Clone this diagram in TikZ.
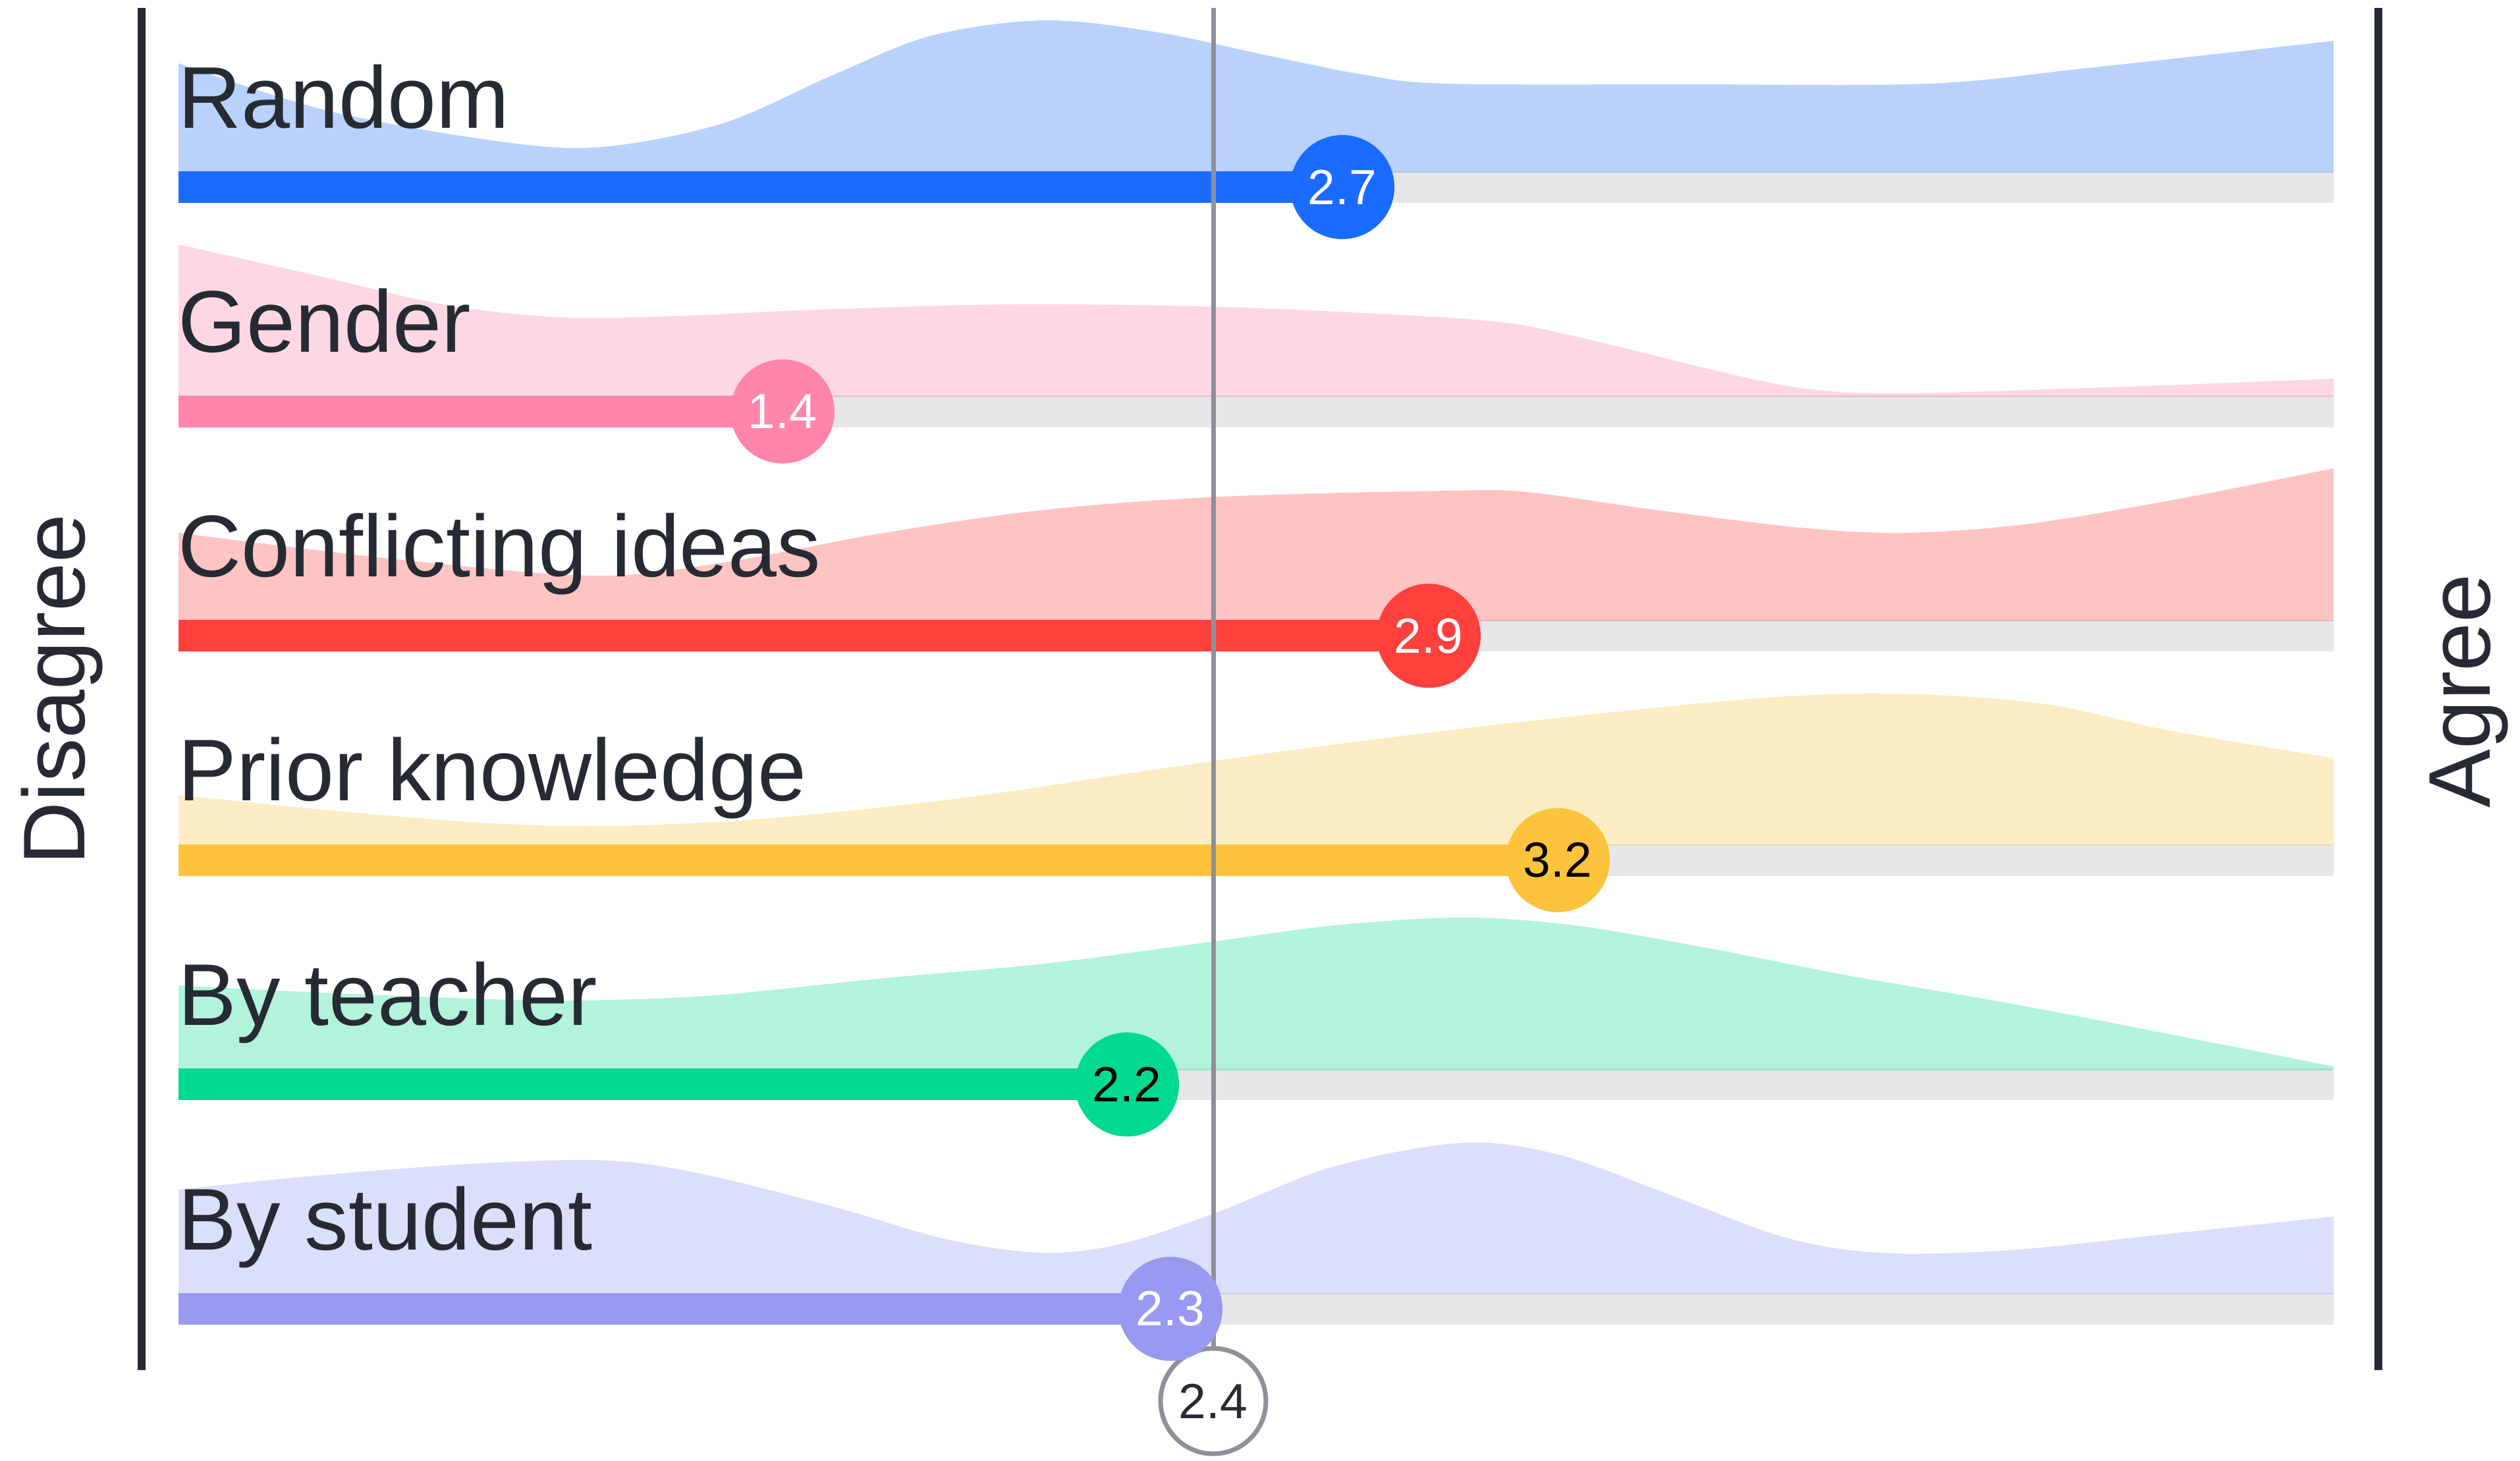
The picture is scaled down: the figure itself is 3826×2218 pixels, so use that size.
\documentclass[tikz,border=0pt]{standalone}
\usepackage{fontspec}
\setmainfont{Liberation Sans}
\definecolor{ink}{HTML}{262A33}
\definecolor{meangray}{HTML}{8F9099}
\definecolor{track}{HTML}{E6E7E8}
\definecolor{cA}{HTML}{1A6BFF}\definecolor{dA}{HTML}{B9D2FB}
\definecolor{cB}{HTML}{FF85AA}\definecolor{dB}{HTML}{FDD8E4}
\definecolor{cC}{HTML}{FF403D}\definecolor{dC}{HTML}{FEC4C3}
\definecolor{cD}{HTML}{FCC43D}\definecolor{dD}{HTML}{FDEDC5}
\definecolor{cE}{HTML}{00D992}\definecolor{dE}{HTML}{B3F3DC}
\definecolor{cF}{HTML}{9999F2}\definecolor{dF}{HTML}{DCDFFB}
\begin{document}
\begin{tikzpicture}[x={(0.25pt,0)},y={(0,-0.25pt)},
  rowlabel/.style={anchor=base west,inner sep=0pt,text=ink,font=\fontsize{33.25}{40}\selectfont},
  axislabel/.style={rotate=90,anchor=base,inner sep=0pt,text=ink,font=\fontsize{33.25}{40}\selectfont},
  valdot/.style={circle,inner sep=0pt,minimum size=39.5pt,font=\fontsize{18.75}{22}\selectfont},
  meandot/.style={circle,inner sep=0pt,minimum size=40pt,draw=meangray,line width=1.75pt,fill=white,text=ink,font=\fontsize{18.75}{22}\selectfont},
  axisline/.style={draw=ink,line width=3pt},
  trackbar/.style={fill=track},
  baseline/.style={line width=0.6pt,draw=#1!80!gray},
  dens/.style={smooth,tension=0.55}]
\useasboundingbox (0,0) rectangle (3826,2218);
% ---- densities ----
\fill[dA] (271,260) -- plot[dens] coordinates {(271,96) (497,168) (760,215) (915,223) (1098,187) (1269,112) (1415,54) (1586,31) (1757,49) (1928,85) (2074,114) (2196,127) (2560,128) (2928,127) (3172,103) (3543,62)} -- (3543,260) -- cycle;
\fill[dB] (271,601) -- plot[dens] coordinates {(271,371) (488,420) (683,464) (854,482) (1025,480) (1220,471) (1537,462) (1854,466) (2123,478) (2294,491) (2440,522) (2586,558) (2733,589) (2879,597) (3172,589) (3543,575)} -- (3543,601) -- cycle;
\fill[dC] (271,942) -- plot[dens] coordinates {(271,809) (610,850) (903,874) (1098,854) (1342,809) (1586,774) (1854,754) (2196,745) (2318,747) (2513,774) (2733,801) (2891,809) (3074,796) (3294,760) (3543,711)} -- (3543,942) -- cycle;
\fill[dD] (271,1283) -- plot[dens] coordinates {(271,1207) (488,1229) (732,1249) (927,1254) (1171,1242) (1464,1211) (1708,1175) (1952,1140) (2196,1109) (2440,1082) (2684,1059) (2879,1053) (3099,1068) (3294,1109) (3543,1151)} -- (3543,1283) -- cycle;
\fill[dE] (271,1623) -- plot[dens] coordinates {(271,1496) (488,1507) (781,1518) (927,1518) (1098,1510) (1342,1485) (1586,1463) (1830,1431) (2025,1405) (2220,1393) (2391,1405) (2586,1438) (2806,1481) (3050,1523) (3294,1570) (3543,1619)} -- (3543,1623) -- cycle;
\fill[dF] (271,1963) -- plot[dens] coordinates {(271,1806) (488,1784) (732,1766) (927,1762) (1074,1784) (1269,1833) (1440,1882) (1586,1902) (1708,1887) (1854,1838) (2025,1771) (2220,1735) (2367,1753) (2538,1815) (2708,1878) (2855,1902) (3050,1898) (3294,1873) (3543,1847)} -- (3543,1963) -- cycle;
% ---- tracks ----
\foreach \c/\d in {284/dA,624.6/dB,965.2/dC,1305.8/dD,1646.4/dE,1987/dF}{
  \fill[trackbar] (271,\c-24) rectangle (3543,\c+24);
  \draw[baseline=\d] (271,\c-23) -- (3543,\c-23);
}
% ---- value bars ----
\fill[cA] (271,260) rectangle (2038,308);
\fill[cB] (271,600.6) rectangle (1188,648.6);
\fill[cC] (271,941.2) rectangle (2169,989.2);
\fill[cD] (271,1281.8) rectangle (2365,1329.8);
\fill[cE] (271,1622.4) rectangle (1711,1670.4);
\fill[cF] (271,1963) rectangle (1777,2011);
% ---- axes ----
\coordinate (lt) at (215,12);
\coordinate (lb) at (215,2080);
\coordinate (rt) at (3611,12);
\coordinate (rb) at (3611,2080);
\draw[axisline] (lt) -- (lb);
\draw[axisline] (rt) -- (rb);
\node[axislabel] (dis) at (128,1047) {Disagree};
\node[axislabel] (agr) at (3780,1049) {Agree};
% ---- row labels ----
\node[rowlabel] (lA) at (270,194) {Random};
\node[rowlabel] (lB) at (270,534.6) {Gender};
\node[rowlabel] (lC) at (270,875.2) {Conflicting ideas};
\node[rowlabel] (lD) at (270,1215.8) {Prior knowledge};
\node[rowlabel] (lE) at (270,1556.4) {By teacher};
\node[rowlabel] (lF) at (270,1897) {By student};
% ---- mean line and dots ----
\node[meandot] (m) at (1842,2127) {2.4};
\coordinate (mt) at (1842,12);
\draw[meangray,line width=1.75pt] (mt) -- (m.north);
\node[valdot,fill=cA,text=white] (vA) at (2038,284) {2.7};
\node[valdot,fill=cB,text=white] (vB) at (1188,624.6) {1.4};
\node[valdot,fill=cC,text=white] (vC) at (2169,965.2) {2.9};
\node[valdot,fill=cD,text=black] (vD) at (2365,1305.8) {3.2};
\node[valdot,fill=cE,text=black] (vE) at (1711,1646.4) {2.2};
\node[valdot,fill=cF,text=white] (vF) at (1777,1987) {2.3};
\end{tikzpicture}
\end{document}
